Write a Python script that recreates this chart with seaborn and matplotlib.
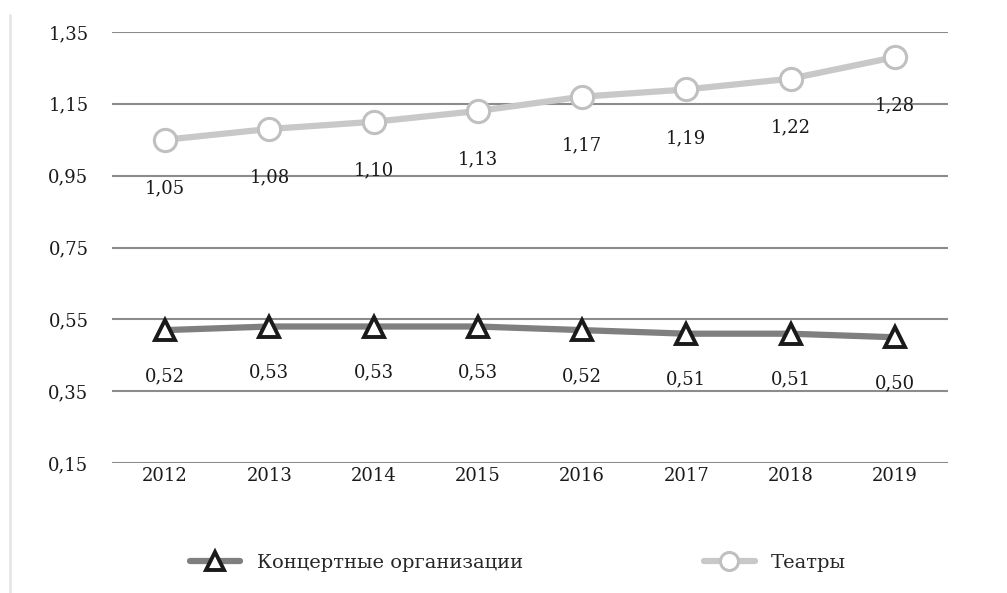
import matplotlib
matplotlib.use("Agg")
import matplotlib.pyplot as plt
import matplotlib.lines as mlines
import pandas as pd
import seaborn as sns

years = [2012, 2013, 2014, 2015, 2016, 2017, 2018, 2019]
concerts = [0.52, 0.53, 0.53, 0.53, 0.52, 0.51, 0.51, 0.50]
theatres = [1.05, 1.08, 1.10, 1.13, 1.17, 1.19, 1.22, 1.28]
y_ticks = [0.15, 0.35, 0.55, 0.75, 0.95, 1.15, 1.35]

LABEL_CONC = "Концертные организации"
LABEL_THEA = "Театры"

sns.set_theme(style="white")
plt.rcParams["font.family"] = ["DejaVu Serif", "Liberation Serif"]

df = pd.DataFrame({"year": years, "conc": concerts, "thea": theatres})

fig = plt.figure(figsize=(10.07, 5.93), dpi=100)
ax = fig.add_axes([112 / 1007, 1 - 463 / 593, (948 - 112) / 1007, (463 - 32) / 593])

for yt in y_ticks:
    ax.axhline(yt, color="#8c8c8c", lw=1.5, zorder=0)

sns.lineplot(data=df, x="year", y="thea", ax=ax, color="#c8c8c8", lw=4.5,
             marker="o", markersize=16, markerfacecolor="white",
             markeredgecolor="#c0c0c0", markeredgewidth=2.2, zorder=3)
sns.lineplot(data=df, x="year", y="conc", ax=ax, color="#7f7f7f", lw=4.5,
             marker="^", markersize=15, markerfacecolor="white",
             markeredgecolor="#1a1a1a", markeredgewidth=2.8, zorder=3)

for x, v in zip(years, theatres):
    ax.annotate(f"{v:.2f}".replace(".", ","), (x, v), xytext=(0, -35),
                textcoords="offset points", ha="center", va="center",
                fontsize=13, color="#1a1a1a")
for x, v in zip(years, concerts):
    ax.annotate(f"{v:.2f}".replace(".", ","), (x, v), xytext=(0, -33),
                textcoords="offset points", ha="center", va="center",
                fontsize=13, color="#1a1a1a")

ax.set_xlim(2011.49, 2019.51)
ax.set_ylim(0.15, 1.35)
ax.set_yticks(y_ticks)
ax.set_yticklabels([f"{t:.2f}".replace(".", ",") for t in y_ticks], fontsize=13)
ax.set_xticks(years)
ax.set_xticklabels([str(y) for y in years], fontsize=13)
ax.tick_params(axis="both", length=0, colors="#1a1a1a")
ax.tick_params(axis="x", pad=3)
ax.tick_params(axis="y", pad=17)
ax.set_xlabel("")
ax.set_ylabel("")
for s in ax.spines.values():
    s.set_visible(False)

h_conc = mlines.Line2D([], [], color="#7f7f7f", lw=4.5, marker="^", markersize=13,
                       markerfacecolor="white", markeredgecolor="#1a1a1a",
                       markeredgewidth=2.8, label=LABEL_CONC)
h_thea = mlines.Line2D([], [], color="#c8c8c8", lw=4.5, marker="o", markersize=13,
                       markerfacecolor="white", markeredgecolor="#c0c0c0",
                       markeredgewidth=2.2, label=LABEL_THEA)
fig.legend(handles=[h_conc, h_thea], loc="center", bbox_to_anchor=(518 / 1007, 1 - 563 / 593),
           ncol=2, frameon=False, fontsize=14, handlelength=2.6, columnspacing=9.3,
           handletextpad=0.85)

fig.add_artist(mlines.Line2D([10 / 1007, 10 / 1007], [0.0, 1 - 15 / 593],
                             transform=fig.transFigure, color="#e6e6e6", lw=2))

fig.savefig("out.png", dpi=100)
